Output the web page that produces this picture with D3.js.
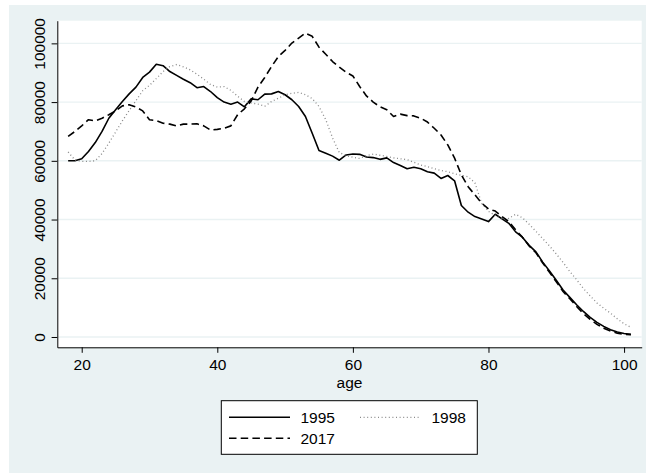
<!DOCTYPE html>
<html>
<head>
  <meta charset="UTF-8">
  <script src="https://d3js.org/d3.v7.min.js"></script>
  <style>
    body { margin: 0; background: #fff; font-family: "Liberation Sans", Arial, Helvetica, sans-serif; }
    svg text { font-family: "Liberation Sans", Arial, Helvetica, sans-serif; fill: #000; }
  </style>
</head>
<body>
  <div id="chart"></div>
  <script>
    // population by single year of age
    const ages = [18, 19, 20, 21, 22, 23, 24, 25, 26, 27,
      28, 29, 30, 31, 32, 33, 34, 35, 36, 37,
      38, 39, 40, 41, 42, 43, 44, 45, 46, 47,
      48, 49, 50, 51, 52, 53, 54, 55, 56, 57,
      58, 59, 60, 61, 62, 63, 64, 65, 66, 67,
      68, 69, 70, 71, 72, 73, 74, 75, 76, 77,
      78, 79, 80, 81, 82, 83, 84, 85, 86, 87,
      88, 89, 90, 91, 92, 93, 94, 95, 96, 97,
      98, 99, 100, 101];

    const v1995 = [60000, 60000, 60700, 63200, 66200, 70000, 74500, 77400, 80200, 82800,
      85100, 88400, 90200, 92900, 92400, 90400, 89100, 87800, 86600, 84900,
      85300, 83600, 81500, 80000, 79300, 80000, 78400, 81100, 80800, 82700,
      82800, 83600, 82500, 80800, 78500, 75100, 69400, 63500, 62600, 61600,
      60200, 62000, 62300, 62200, 61300, 61100, 60500, 61000, 59400, 58400,
      57300, 57800, 57300, 56300, 55800, 54000, 55000, 53200, 44800, 42500,
      41000, 40200, 39300, 41800, 40200, 38700, 35800, 34000, 31200, 29000,
      25500, 22500, 19300, 16000, 13500, 11000, 8700, 6700, 5000, 3600,
      2500, 1700, 1200, 900];

    const v1998 = [63000, 60300, 59800, 59800, 60000, 62500, 66000, 69800, 73600, 77100,
      80500, 83900, 85700, 88000, 90400, 92100, 92800, 92000, 91000, 89500,
      87800, 86000, 85100, 85300, 84000, 82000, 80200, 79700, 79300, 78600,
      80200, 81300, 82500, 83000, 83300, 82500, 81200, 78500, 74000, 67800,
      62800, 61800, 61200, 60800, 61800, 62300, 61900, 61500, 61000, 60700,
      60400, 59500, 58600, 58000, 57300, 56700, 56300, 55600, 55000, 54600,
      52500, 45500, 42800, 41400, 40000, 40400, 41800, 40600, 38400, 36000,
      33500, 31000, 28300, 25400, 22300, 19500, 16500, 14000, 11600, 9800,
      8100, 6200, 4500, 3300];

    const v2017 = [68300, 70000, 71900, 74000, 73600, 74500, 75700, 77000, 78700, 79100,
      78300, 77000, 74000, 73700, 72800, 72500, 71900, 72500, 72500, 72600,
      71900, 70500, 70700, 71100, 71900, 75700, 77700, 80400, 85100, 88400,
      92100, 95500, 97600, 100100, 101800, 103500, 102400, 98700, 96300, 93800,
      91900, 90200, 88900, 85300, 82100, 80000, 78400, 77400, 75100, 75900,
      75400, 75300, 74500, 73200, 71100, 68800, 65400, 60900, 55200, 51200,
      48400, 45600, 43600, 42900, 41000, 39300, 36500, 34000, 31000, 28700,
      25200, 22000, 18800, 15500, 13000, 10400, 8000, 6000, 4300, 3000,
      2000, 1300, 900, 800];

    const xTicks = [20, 40, 60, 80, 100];
    const yTicks = [0, 20000, 40000, 60000, 80000, 100000];

    const series = [
      { name: '1995', values: v1995, stroke: '#000', dash: null, width: 1.6 },
      { name: '1998', values: v1998, stroke: '#8a8a8a', dash: '1,2.6', width: 1.3 },
      { name: '2017', values: v2017, stroke: '#000', dash: '7.5,4.2', width: 1.6 }
    ];

    const W = 646, H = 473;
    const plot = { left: 57.3, right: 641.7, top: 20.7, bottom: 347.3 };
    const bg = '#eaf2f3';
    const fontSize = 15.5;

    const svg = d3.select('#chart')
      .append('svg')
      .attr('width', W)
      .attr('height', H);

    // graph region + plot region
    svg.append('rect')
      .attr('x', 9).attr('y', 5)
      .attr('width', W - 9).attr('height', H - 5)
      .attr('fill', bg);

    svg.append('rect')
      .attr('x', plot.left).attr('y', plot.top)
      .attr('width', plot.right - plot.left).attr('height', plot.bottom - plot.top)
      .attr('fill', '#fff');

    const x = d3.scaleLinear()
      .domain([16.4, 102.6])
      .range([plot.left, plot.right]);

    const y = d3.scaleLinear()
      .domain([-3511, 107720])
      .range([plot.bottom, plot.top]);

    // grid
    svg.append('g')
      .selectAll('line')
      .data(yTicks)
      .enter()
      .append('line')
      .attr('x1', plot.left)
      .attr('x2', plot.right)
      .attr('y1', d => y(d))
      .attr('y2', d => y(d))
      .attr('stroke', bg)
      .attr('stroke-width', 1.4);

    const line = d3.line()
      .x((d, i) => x(ages[i]))
      .y(d => y(d));

    series.forEach(s => {
      svg.append('path')
        .datum(s.values)
        .attr('fill', 'none')
        .attr('stroke', s.stroke)
        .attr('stroke-width', s.width)
        .attr('stroke-dasharray', s.dash)
        .attr('stroke-linejoin', 'round')
        .attr('d', line);
    });

    // axes
    const xAxis = svg.append('g')
      .attr('transform', `translate(0,${plot.bottom})`)
      .call(d3.axisBottom(x).tickValues(xTicks).tickSize(5.5).tickSizeOuter(0).tickPadding(6));

    const yAxis = svg.append('g')
      .attr('transform', `translate(${plot.left},0)`)
      .call(d3.axisLeft(y).tickValues(yTicks).tickSize(5.7).tickSizeOuter(0).tickFormat(d3.format('d')));

    [xAxis, yAxis].forEach(g => {
      g.selectAll('path, line').attr('stroke', '#000').attr('stroke-width', 1);
      g.selectAll('text').style('font-size', fontSize + 'px').attr('fill', '#000');
    });

    // vertical y labels
    yAxis.selectAll('text')
      .attr('x', null).attr('dy', null)
      .attr('text-anchor', 'middle')
      .attr('transform', 'translate(-12,0) rotate(-90)');

    svg.append('text')
      .attr('x', (plot.left + plot.right) / 2)
      .attr('y', 388)
      .attr('text-anchor', 'middle')
      .style('font-size', fontSize + 'px')
      .text('age');

    // legend
    const legend = svg.append('g');
    legend.append('rect')
      .attr('x', 221.3).attr('y', 400.7)
      .attr('width', 256).attr('height', 53.6)
      .attr('fill', '#fff')
      .attr('stroke', '#000')
      .attr('stroke-width', 1);

    const legendPos = [
      { x: 229, y: 417.3 },
      { x: 360, y: 417.3 },
      { x: 229, y: 438.3 }
    ];

    series.forEach((s, i) => {
      const p = legendPos[i];
      legend.append('line')
        .attr('x1', p.x).attr('x2', p.x + 61)
        .attr('y1', p.y).attr('y2', p.y)
        .attr('stroke', s.stroke)
        .attr('stroke-width', s.width)
        .attr('stroke-dasharray', s.dash);
      legend.append('text')
        .attr('x', p.x + 71.5)
        .attr('y', p.y + 6)
        .style('font-size', fontSize + 'px')
        .text(s.name);
    });
  </script>
</body>
</html>
